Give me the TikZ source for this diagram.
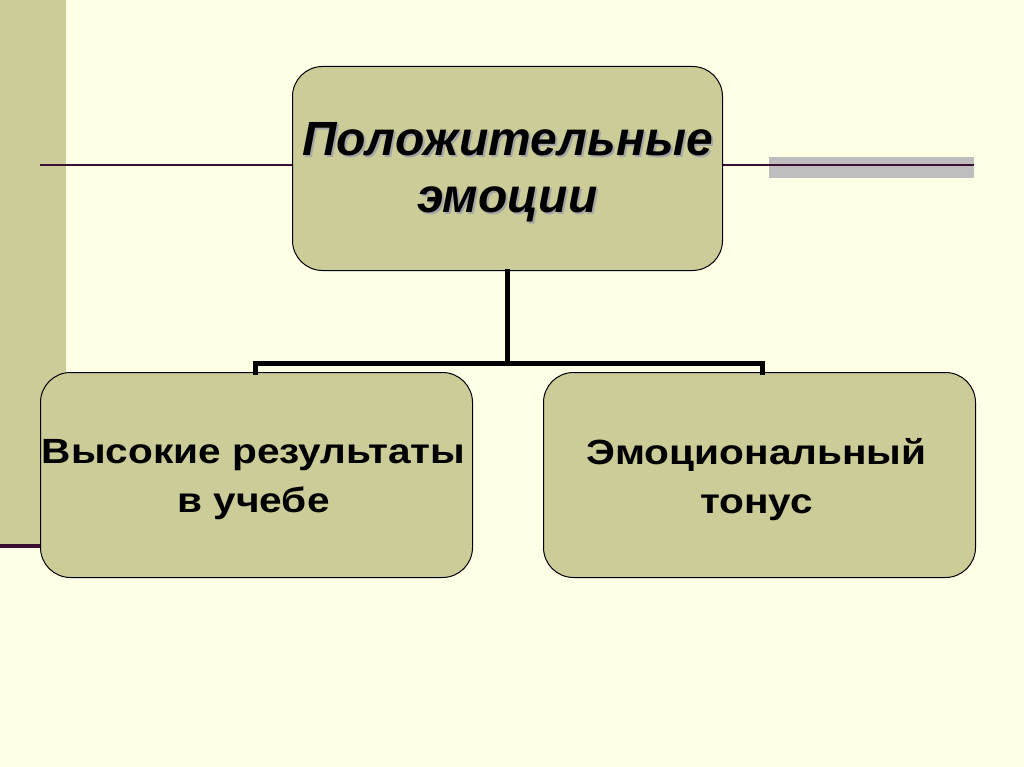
\documentclass[tikz,border=0pt]{standalone}
\usepackage{fontspec}
\setmainfont{Liberation Sans}
\definecolor{bg}{RGB}{255,255,230}
\definecolor{khaki}{RGB}{204,204,153}
\definecolor{plum}{RGB}{60,15,50}
\definecolor{greybar}{RGB}{190,190,190}
\tikzset{
  box/.style={draw=black, line width=1pt, fill=khaki, rounded corners=30pt, minimum width=432pt, minimum height=205pt, anchor=north west},
  toptxt/.style={font=\bfseries\itshape\fontsize{48}{57}\selectfont, align=center},
  subtxt/.style={font=\bfseries\fontsize{35}{49}\selectfont, align=center, xscale=1.16},
  conn/.style={line width=5pt, line cap=rect},
  rule/.style={draw=plum, line width=2pt},
}
\begin{document}
\begin{tikzpicture}[x=1pt,y=-1pt]
\useasboundingbox (0,0) rectangle (1024,767);
\fill[bg] (0,0) rectangle (1024,767);
\fill[khaki] (0,0) rectangle (66,546);
\draw[plum, line width=4pt] (0,546) -- (60,546);
\fill[greybar] (769,157) rectangle (974,178);
\draw[rule] (40,165) -- (974,165);

\node[box, minimum width=430pt, minimum height=204pt] (top) at (292,66) {};
\node[toptxt, text=gray!70] (topshadow) at ([xshift=2pt,yshift=-6pt]top.center) {Положительные\\эмоции};
\node[toptxt, text=black] (toptext) at ([yshift=-4pt]top.center) {Положительные\\эмоции};

\node[box] (left) at (40,372) {};
\node[subtxt] (lefttext) at ([xshift=-3pt,yshift=-5pt]left.center) {Высокие результаты\\в учебе};
\node[box] (right) at (543,372) {};
\node[subtxt] (righttext) at ([xshift=-3pt,yshift=-5pt]right.center) {Эмоциональный\\тонус};

\coordinate (mid) at ([yshift=-92pt]top.south);
\draw[conn] (top.south) -- (mid);
\draw[conn] (left.north -| 255,0) |- (mid) -| (right.north -| 762,0);
\end{tikzpicture}
\end{document}
